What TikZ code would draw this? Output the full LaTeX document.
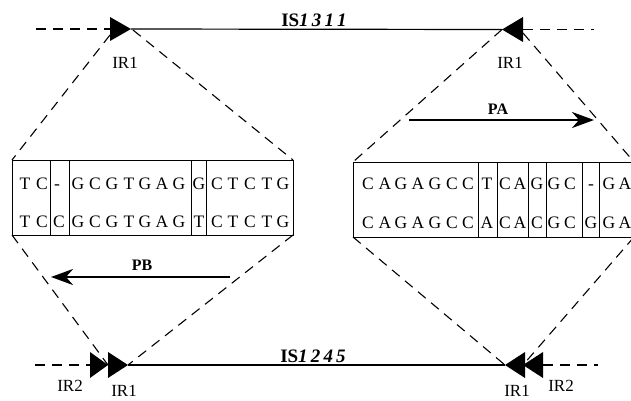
\documentclass[tikz,border=0pt]{standalone}
\usepackage{fontspec}
\setmainfont{Liberation Serif}
\usetikzlibrary{arrows.meta}
\begin{document}
\begin{tikzpicture}[x=1pt,y=-1pt,
  dsh/.style={line width=1.1pt, dash pattern=on 10pt off 7pt},
  solidline/.style={line width=1.2pt},
  tri/.style={fill=black},
  lbl/.style={font=\fontsize{17}{17}\selectfont, inner sep=0pt},
  nt/.style={font=\fontsize{17.5}{17.5}\selectfont, inner sep=0pt, anchor=base},
  cell/.style={line width=0.9pt},
  parrow/.style={line width=2.6pt, -{Stealth[length=22pt,width=16pt,inset=7pt]}},
  plbl/.style={font=\fontsize{16}{16}\selectfont\bfseries, inner sep=0pt},
  isl/.style={font=\fontsize{19}{19}\selectfont\bfseries, inner sep=0pt, anchor=base},
]
\useasboundingbox (0,0) rectangle (631,400);
\clip (0,0) rectangle (631,400);

% ---------- top element IS1311 ----------
\coordinate (tdl) at (36,29);
\coordinate (tLb) at (110,29);
\coordinate (tLt) at (131,29);
\coordinate (tRt) at (502,29.5);
\coordinate (tRb) at (523,29.5);
\coordinate (tdr) at (594,29.5);
\draw[dsh] (tdl) -- (tLb);
\draw[solidline] (tLt) -- (tRt);
\draw[dsh] (tRb) -- (tdr);
\fill[tri] (110,17) -- (tLt) -- (110,41) -- cycle;
\fill[tri] (523,17) -- (tRt) -- (523,42) -- cycle;
\node[isl] (is1311) at (314,26) {IS\textit{1\,3\,1\,1}};
\node[lbl] (ir1a) at (125,63) {IR1};
\node[lbl] (ir1b) at (510,63) {IR1};

% ---------- bottom element IS1245 ----------
\coordinate (bdl) at (35,365);
\coordinate (bL2b) at (90,365);
\coordinate (bL2t) at (108,365);
\coordinate (bL1t) at (128,365);
\coordinate (bR1t) at (505,365);
\coordinate (bR1b) at (525,365);
\coordinate (bR2t) at (523,365);
\coordinate (bR2b) at (543,365);
\coordinate (bdr) at (598,365);
\draw[dsh] (bdl) -- (bL2b);
\draw[solidline] (bL1t) -- (bR1t);
\draw[dsh] (bR2b) -- (bdr);
\fill[tri] (90,352) -- (bL2t) -- (90,378) -- cycle;
\fill[tri] (108,352) -- (bL1t) -- (108,378) -- cycle;
\fill[tri] (525,352) -- (bR1t) -- (525,378) -- cycle;
\fill[tri] (543,352) -- (bR2t) -- (543,378) -- cycle;
\node[isl] (is1245) at (313,362) {IS\textit{1\,2\,4\,5}};
\node[lbl] (ir2c) at (70,386) {IR2};
\node[lbl] (ir1c) at (124,391) {IR1};
\node[lbl] (ir1d) at (517,391) {IR1};
\node[lbl] (ir2d) at (561,386) {IR2};

% ---------- left box ----------
\coordinate (LBtl) at (12,160);
\coordinate (LBtr) at (293,160);
\coordinate (LBbl) at (12,235);
\coordinate (LBbr) at (293,235);
\draw[cell] (LBtl) rectangle (LBbr);
\foreach \x in {50,69,191,206} \draw[cell] (\x,160) -- (\x,235);
\foreach \x/\c [count=\i] in {25/T,42/C,57/-,78/G,95/C,112/G,129/T,145/G,162/A,179/G,199/G,217/C,233/T,250/C,267/T,283/G}
  \node[nt] (la\i) at (\x,189) {\c};
\foreach \x/\c [count=\i] in {25/T,42/C,59/C,78/G,95/C,112/G,129/T,145/G,162/A,179/G,199/T,217/C,233/T,250/C,267/T,283/G}
  \node[nt] (lb\i) at (\x,227) {\c};

% ---------- right box ----------
\coordinate (RBtl) at (353,162);
\coordinate (RBtr) at (634,162);
\coordinate (RBbl) at (353,237);
\coordinate (RBbr) at (634,237);
\draw[cell] (RBtr) -- (RBtl) -- (RBbl) -- (RBbr);
\foreach \x in {478,497,528,546,582,599} \draw[cell] (\x,162) -- (\x,237);
\foreach \x/\c [count=\i] in {368/C,385/A,401/G,418/A,435/G,452/C,468/C,487/T,505/C,520/A,537/G,554/G,570/C,591/-,609/G,625/A}
  \node[nt] (ra\i) at (\x,189) {\c};
\foreach \x/\c [count=\i] in {368/C,385/A,401/G,418/A,435/G,452/C,468/C,487/A,505/C,520/A,537/C,554/G,570/C,591/G,609/G,625/A}
  \node[nt] (rb\i) at (\x,228) {\c};

% ---------- dashed expansion lines ----------
\draw[dsh] (110,35) -- (LBtl);
\draw[dsh] (133,30) -- (LBtr);
\draw[dsh] (tRt) -- (RBtl);
\draw[dsh] (523,33) -- (RBtr);
\draw[dsh] (LBbl) -- (bL2t);
\draw[dsh] (LBbr) -- (bL1t);
\draw[dsh] (RBbl) -- (bR1t);
\draw[dsh] (RBbr) -- (bR2t);

% ---------- promoter arrows ----------
\coordinate (pas) at (409,120);
\coordinate (pae) at (594,120);
\draw[parrow] (pas) -- (pae);
\node[plbl] (pa) at (498,109) {PA};
\coordinate (pbs) at (230,277);
\coordinate (pbe) at (51,277);
\draw[parrow] (pbs) -- (pbe);
\node[plbl] (pb) at (142,265) {PB};
\end{tikzpicture}
\end{document}
